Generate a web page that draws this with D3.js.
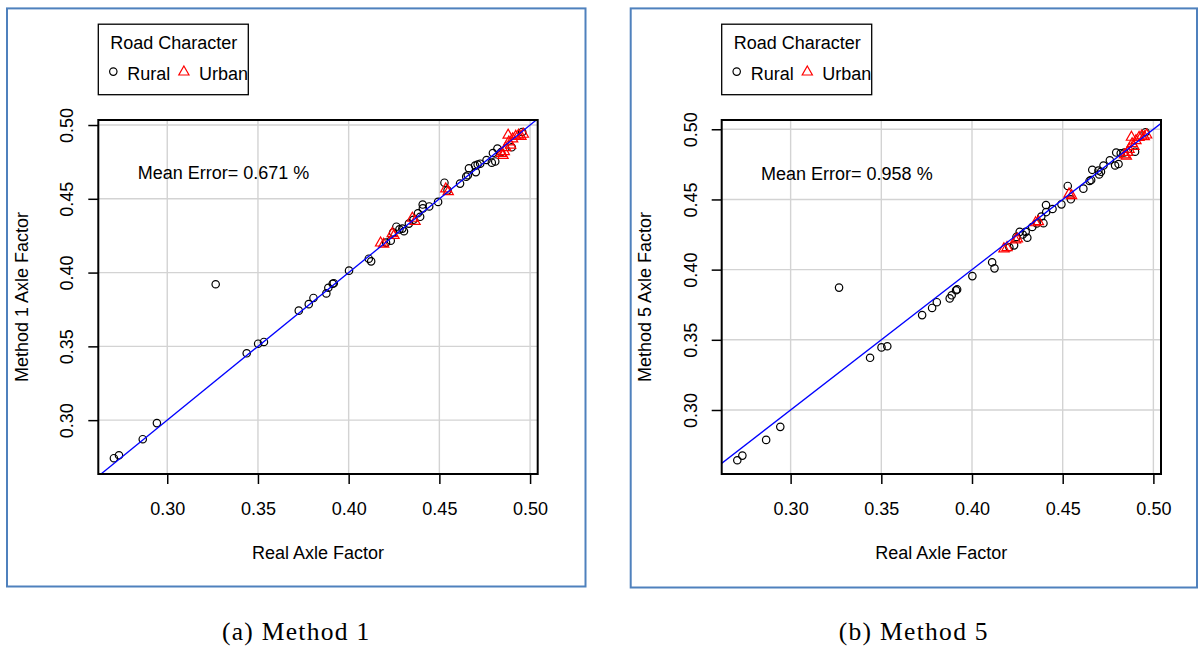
<!DOCTYPE html>
<html>
<head>
<meta charset="utf-8">
<script src="https://cdn.jsdelivr.net/npm/d3@7"></script>
<style>
  html, body { margin: 0; padding: 0; background: #ffffff; }
  svg { display: block; }
</style>
</head>
<body>
<svg id="chart" width="1202" height="647"></svg>
<script>
// ---------------- data ----------------
const ruralReal = [0.2706, 0.2734, 0.2865, 0.2943, 0.3267, 0.3438, 0.3501, 0.3533, 0.3725, 0.3780,
  0.3806, 0.3877, 0.3888, 0.3912, 0.3918, 0.4002, 0.4111, 0.4124, 0.4206, 0.4232,
  0.4245, 0.4263, 0.4280, 0.4296, 0.4305, 0.4332, 0.4357, 0.4382, 0.4394, 0.4408,
  0.4409, 0.4444, 0.4493, 0.4528, 0.4545, 0.4614, 0.4648, 0.4657, 0.4663, 0.4697,
  0.4701, 0.4711, 0.4725, 0.4760, 0.4789, 0.4795, 0.4808, 0.4820, 0.4840, 0.4899, 0.4957];
const ruralMethod1 = [0.2742, 0.2762, 0.2871, 0.2980, 0.3921, 0.3453, 0.3518, 0.3530, 0.3742, 0.3786,
  0.3828, 0.3859, 0.3897, 0.3924, 0.3928, 0.4013, 0.4094, 0.4076, 0.4203, 0.4216,
  0.4272, 0.4311, 0.4293, 0.4298, 0.4280, 0.4332, 0.4358, 0.4402, 0.4378, 0.4461,
  0.4435, 0.4448, 0.4479, 0.4609, 0.4557, 0.4603, 0.4650, 0.4660, 0.4707, 0.4725,
  0.4681, 0.4732, 0.4738, 0.4763, 0.4745, 0.4810, 0.4753, 0.4841, 0.4816, 0.4849, 0.4953];
const ruralMethod5 = [0.2642, 0.2675, 0.2787, 0.2880, 0.3872, 0.3372, 0.3446, 0.3454, 0.3676, 0.3727,
  0.3768, 0.3795, 0.3817, 0.3853, 0.3859, 0.3954, 0.4052, 0.4009, 0.4159, 0.4173,
  0.4233, 0.4269, 0.4250, 0.4269, 0.4227, 0.4304, 0.4329, 0.4378, 0.4331, 0.4460,
  0.4410, 0.4432, 0.4465, 0.4596, 0.4501, 0.4577, 0.4632, 0.4638, 0.4711, 0.4706,
  0.4678, 0.4697, 0.4742, 0.4779, 0.4742, 0.4834, 0.4752, 0.4829, 0.4834, 0.4840, 0.4979];

const urbanReal = [0.4176, 0.4193, 0.4240, 0.4250, 0.4351, 0.4366, 0.4535, 0.4549, 0.4841, 0.4851,
  0.4858, 0.4866, 0.4879, 0.4883, 0.4893, 0.4904, 0.4921, 0.4936, 0.4950, 0.4963];
const urbanMethod1 = [0.4203, 0.4195, 0.4267, 0.4254, 0.4371, 0.4350, 0.4570, 0.4551, 0.4810, 0.4797,
  0.4823, 0.4849, 0.4934, 0.4888, 0.4867, 0.4909, 0.4926, 0.4934, 0.4926, 0.4940];
const urbanMethod5 = [0.4151, 0.4160, 0.4214, 0.4222, 0.4337, 0.4345, 0.4541, 0.4530, 0.4820, 0.4812,
  0.4838, 0.4860, 0.4946, 0.4900, 0.4880, 0.4922, 0.4945, 0.4955, 0.4950, 0.4962];

const tickValues = [0.30, 0.35, 0.40, 0.45, 0.50];
const methodNames = ["Method 1", "Method 5"];
const meanErrors = ["0.671", "0.958"];
const captions = ["(a) Method 1", "(b) Method 5"];
const legendTitle = "Road Character";
const legendLabels = ["Rural", "Urban"];
const xLimits = [0.2620, 0.5042];
const yLimitsMethod1 = [0.2635, 0.5034];
const yLimitsMethod5 = [0.2544, 0.5066];
const meanErrorPos = [0.331, 0.468];

// ---------------- drawing ----------------
const svg = d3.select("#chart");
const FONT = "'Liberation Sans', Arial, Helvetica, sans-serif";
const FS = 18;
const R = 3.7;

function triPath(cx, cy) {
  const hw = 5.1, up = 5.6, dn = 3.4;
  return `M${cx},${cy - up}L${cx + hw},${cy + dn}L${cx - hw},${cy + dn}Z`;
}

function drawPanel(cfg) {
  const { frame, plot, yLimits, ruralY, urbanY, name, err, caption, idx } = cfg;
  const g = svg.append("g");

  // outer blue frame
  g.append("rect")
    .attr("x", frame.x0).attr("y", frame.y0)
    .attr("width", frame.x1 - frame.x0).attr("height", frame.y1 - frame.y0)
    .attr("fill", "none").attr("stroke", "#4f81bd").attr("stroke-width", 2);

  const x = d3.scaleLinear().domain(xLimits).range([plot.left, plot.right]);
  const y = d3.scaleLinear().domain(yLimits).range([plot.bottom, plot.top]);

  const clipId = "clip" + idx;
  g.append("clipPath").attr("id", clipId).append("rect")
    .attr("x", plot.left).attr("y", plot.top)
    .attr("width", plot.right - plot.left).attr("height", plot.bottom - plot.top);

  // grid
  g.append("g").selectAll("line.gx").data(tickValues).join("line")
    .attr("x1", d => x(d)).attr("x2", d => x(d))
    .attr("y1", plot.top).attr("y2", plot.bottom)
    .attr("stroke", "#d3d3d3").attr("stroke-width", 1.4);
  g.append("g").selectAll("line.gy").data(tickValues).join("line")
    .attr("y1", d => y(d)).attr("y2", d => y(d))
    .attr("x1", plot.left).attr("x2", plot.right)
    .attr("stroke", "#d3d3d3").attr("stroke-width", 1.4);

  // points
  const rural = ruralReal.map((v, i) => [v, ruralY[i]]);
  const urban = urbanReal.map((v, i) => [v, urbanY[i]]);
  g.append("g").selectAll("circle").data(rural).join("circle")
    .attr("cx", d => x(d[0])).attr("cy", d => y(d[1])).attr("r", R)
    .attr("fill", "none").attr("stroke", "#000").attr("stroke-width", 1.2);
  g.append("g").selectAll("path").data(urban).join("path")
    .attr("d", d => triPath(x(d[0]), y(d[1])))
    .attr("fill", "none").attr("stroke", "#ff0000").attr("stroke-width", 1.2);

  // identity line y = x
  g.append("line")
    .attr("clip-path", `url(#${clipId})`)
    .attr("x1", x(0.2)).attr("y1", y(0.2))
    .attr("x2", x(0.6)).attr("y2", y(0.6))
    .attr("stroke", "#0000ff").attr("stroke-width", 1.3);

  // box
  g.append("rect")
    .attr("x", plot.left).attr("y", plot.top)
    .attr("width", plot.right - plot.left).attr("height", plot.bottom - plot.top)
    .attr("fill", "none").attr("stroke", "#000").attr("stroke-width", 2);

  // x axis
  const xAxis = d3.axisBottom(x).tickValues(tickValues).tickFormat(d3.format(".2f"))
    .tickSize(10).tickPadding(0);
  const gx = g.append("g").attr("transform", `translate(0,${plot.bottom})`).call(xAxis);
  gx.select(".domain").remove();
  gx.selectAll(".tick line").attr("stroke", "#000").attr("stroke-width", 1.5);
  gx.selectAll(".tick text").attr("font-family", FONT).attr("font-size", FS)
    .attr("fill", "#000").attr("dy", null).attr("y", 40.5);

  // y axis
  const yAxis = d3.axisLeft(y).tickValues(tickValues).tickFormat(d3.format(".2f"))
    .tickSize(10).tickPadding(0);
  const gy = g.append("g").attr("transform", `translate(${plot.left},0)`).call(yAxis);
  gy.select(".domain").remove();
  gy.selectAll(".tick line").attr("stroke", "#000").attr("stroke-width", 1.5);
  gy.selectAll(".tick text").attr("font-family", FONT).attr("font-size", FS)
    .attr("fill", "#000").attr("x", null).attr("dy", null)
    .attr("text-anchor", "middle")
    .attr("transform", "translate(-25,0) rotate(-90)");

  // axis titles
  g.append("text")
    .attr("x", (plot.left + plot.right) / 2).attr("y", plot.bottom + 85)
    .attr("text-anchor", "middle").attr("font-family", FONT).attr("font-size", FS)
    .text("Real Axle Factor");
  g.append("text")
    .attr("transform", `translate(${plot.left - 70.4},${(plot.top + plot.bottom) / 2}) rotate(-90)`)
    .attr("text-anchor", "middle").attr("font-family", FONT).attr("font-size", FS)
    .text(`${name} Axle Factor`);

  // mean error text
  g.append("text")
    .attr("x", x(meanErrorPos[0])).attr("y", y(meanErrorPos[1]))
    .attr("dy", "0.35em")
    .attr("text-anchor", "middle").attr("font-family", FONT).attr("font-size", FS)
    .text(`Mean Error= ${err} %`);

  // legend
  const lx = plot.left, ly = 24.2;
  const lg = g.append("g");
  lg.append("rect").attr("x", lx).attr("y", ly).attr("width", 150).attr("height", 70.5)
    .attr("fill", "#fff").attr("stroke", "#000").attr("stroke-width", 1.3);
  lg.append("text").attr("x", lx + 75.5).attr("y", ly + 25)
    .attr("text-anchor", "middle").attr("font-family", FONT).attr("font-size", FS)
    .text(legendTitle);
  lg.append("circle").attr("cx", lx + 15).attr("cy", ly + 47.4).attr("r", R)
    .attr("fill", "none").attr("stroke", "#000").attr("stroke-width", 1.2);
  lg.append("text").attr("x", lx + 29).attr("y", ly + 56)
    .attr("font-family", FONT).attr("font-size", FS).text(legendLabels[0]);
  lg.append("path").attr("d", triPath(lx + 85.6, ly + 47.4))
    .attr("fill", "none").attr("stroke", "#ff0000").attr("stroke-width", 1.2);
  lg.append("text").attr("x", lx + 100.6).attr("y", ly + 56)
    .attr("font-family", FONT).attr("font-size", FS).text(legendLabels[1]);

  // caption
  svg.append("text")
    .attr("x", (frame.x0 + frame.x1) / 2).attr("y", 640)
    .attr("text-anchor", "middle")
    .attr("font-family", "'Liberation Serif', 'Times New Roman', serif")
    .attr("font-size", 25.5).attr("letter-spacing", 1.3).attr("fill", "#000")
    .text(caption);
}

drawPanel({
  idx: 0,
  frame: { x0: 7, y0: 8.4, x1: 585.5, y1: 586.5 },
  plot: { left: 98.3, right: 537.7, top: 120, bottom: 474 },
  yLimits: yLimitsMethod1, ruralY: ruralMethod1, urbanY: urbanMethod1,
  name: methodNames[0], err: meanErrors[0], caption: captions[0]
});
drawPanel({
  idx: 1,
  frame: { x0: 630.7, y0: 8.4, x1: 1197, y1: 587.5 },
  plot: { left: 721.7, right: 1161, top: 120, bottom: 474 },
  yLimits: yLimitsMethod5, ruralY: ruralMethod5, urbanY: urbanMethod5,
  name: methodNames[1], err: meanErrors[1], caption: captions[1]
});
</script>
</body>
</html>
